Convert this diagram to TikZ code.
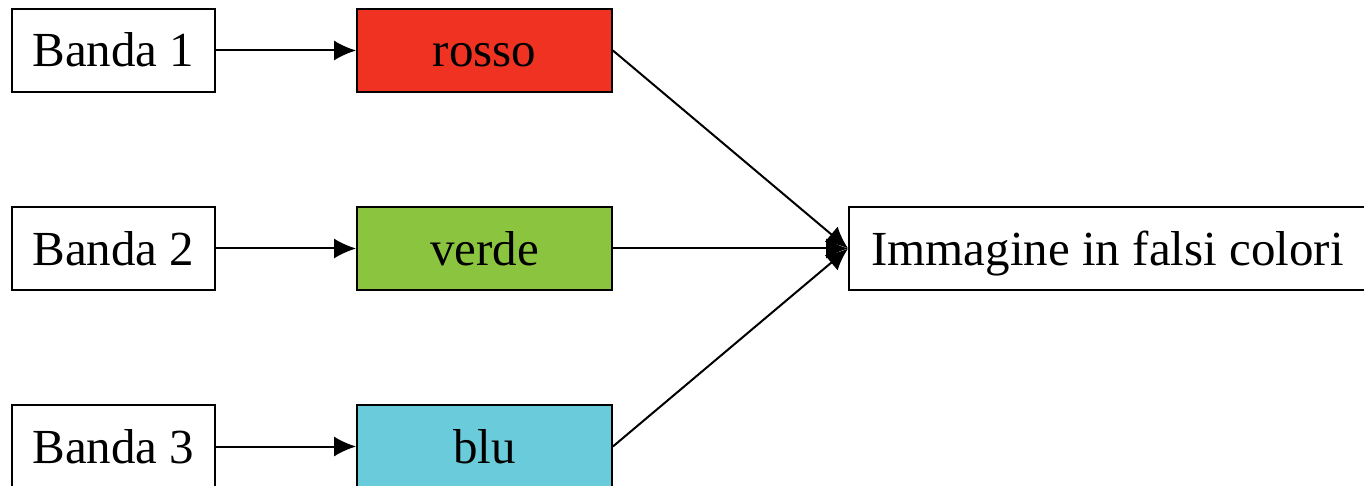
\documentclass[tikz,border=0pt]{standalone}
\usepackage{fontspec}
\setmainfont{Liberation Serif}
\usetikzlibrary{arrows.meta}

\definecolor{rossoc}{RGB}{239,50,34}
\definecolor{verdec}{RGB}{139,197,63}
\definecolor{bluc}{RGB}{106,203,218}

\begin{document}
\begin{tikzpicture}[x=0.5pt,y=-0.5pt]

        \useasboundingbox (0,0) rectangle (1364,486);

        \begin{scope}[every node/.style={draw,line width=0.9pt,inner sep=0pt,
            minimum height=41.5pt,text height=17pt,text depth=0.5pt,
            font=\fontsize{24.5}{28}\selectfont}]
          \node[minimum width=101.5pt] (b1) at (113.5,50.5)  {Banda 1};
          \node[minimum width=101.5pt] (b2) at (113.5,248.5) {Banda 2};
          \node[minimum width=101.5pt] (b3) at (113.5,446.5) {Banda 3};
          \node[minimum width=127.5pt,fill=rossoc] (r) at (484.5,50.5)  {rosso};
          \node[minimum width=127.5pt,fill=verdec] (v) at (484.5,248.5) {verde};
          \node[minimum width=127.5pt,fill=bluc]   (u) at (484.5,446.5) {blu};
          \node[minimum width=258.5pt] (img) at (1107.5,248.5) {Immagine in falsi colori};
        \end{scope}

        \begin{scope}[every edge/.style={draw,line width=1pt,-{Latex[length=11pt,width=10pt]}}]
          \path (b1) edge (r);
          \path (b2) edge (v);
          \path (b3) edge (u);
          \path (r.east) edge (img.west);
          \path (v.east) edge (img.west);
          \path (u.east) edge (img.west);
        \end{scope}

      \end{tikzpicture}
\end{document}
